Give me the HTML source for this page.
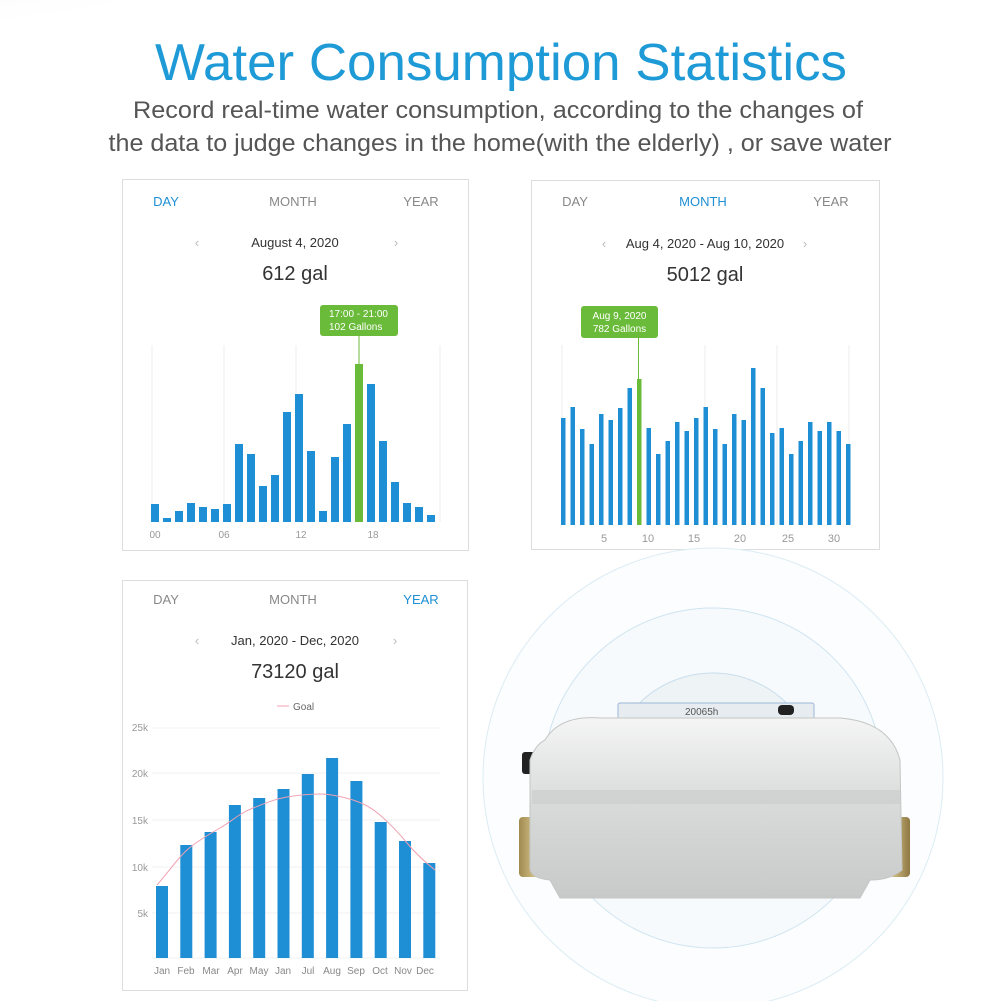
<!DOCTYPE html>
<html><head><meta charset="utf-8"><style>
html,body{margin:0;padding:0;background:#fff}
svg{display:block}
text{font-family:"Liberation Sans",sans-serif}
</style></head><body>
<svg width="1001" height="1001" viewBox="0 0 1001 1001" xmlns="http://www.w3.org/2000/svg">
<defs>
<radialGradient id="corner" cx="0" cy="0" r="1"><stop offset="0" stop-color="#ddd"/><stop offset="1" stop-color="#fff" stop-opacity="0"/></radialGradient>
<linearGradient id="body" x1="0" y1="0" x2="0" y2="1"><stop offset="0" stop-color="#f4f5f4"/><stop offset="0.5" stop-color="#d8dad9"/><stop offset="1" stop-color="#c8cac9"/></linearGradient>
<linearGradient id="brass" x1="0" y1="0" x2="1" y2="0"><stop offset="0" stop-color="#a08a50"/><stop offset="0.5" stop-color="#d6c48a"/><stop offset="1" stop-color="#8e7843"/></linearGradient>
</defs>
<ellipse cx="0" cy="0" rx="250" ry="40" fill="url(#corner)"/>
<text x="501" y="80" text-anchor="middle" font-size="52" fill="#1e9ad6" textLength="692" lengthAdjust="spacingAndGlyphs">Water Consumption Statistics</text>
<text x="498" y="118" text-anchor="middle" font-size="24" fill="#555" textLength="730" lengthAdjust="spacingAndGlyphs">Record real-time water consumption, according to the changes of</text>
<text x="500" y="151" text-anchor="middle" font-size="24" fill="#555" textLength="783" lengthAdjust="spacingAndGlyphs">the data to judge changes in the home(with the elderly) , or save water</text>

<!-- card 1 -->
<rect x="122.5" y="179.5" width="346" height="371" fill="#fff" stroke="#ddd"/>
<g font-size="13" fill="#888">
<text x="166" y="206" text-anchor="middle" fill="#1e8fd4">DAY</text>
<text x="293" y="206" text-anchor="middle">MONTH</text>
<text x="421" y="206" text-anchor="middle">YEAR</text>
<text x="197" y="247" text-anchor="middle" fill="#bbb">‹</text>
<text x="396" y="247" text-anchor="middle" fill="#bbb">›</text>
</g>
<text x="295" y="247" text-anchor="middle" font-size="13" fill="#333">August 4, 2020</text>
<text x="295" y="280" text-anchor="middle" font-size="20" fill="#333">612 gal</text>
<g stroke="#eee"><line x1="152" y1="345" x2="152" y2="522"/><line x1="224" y1="345" x2="224" y2="522"/><line x1="296" y1="345" x2="296" y2="522"/><line x1="440" y1="345" x2="440" y2="522"/></g>
<line x1="359" y1="336" x2="359" y2="364" stroke="#6bbb3a"/>
<rect x="320" y="305" width="78" height="31" rx="3" fill="#6bbb3a"/>
<text x="329" y="317" font-size="10" fill="#fff">17:00 - 21:00</text>
<text x="329" y="330" font-size="10" fill="#fff">102 Gallons</text>
<g fill="#1e8fd4">
<rect x="151" y="504" width="8" height="18"/><rect x="163" y="518" width="8" height="4"/><rect x="175" y="511" width="8" height="11"/><rect x="187" y="503" width="8" height="19"/><rect x="199" y="507" width="8" height="15"/><rect x="211" y="509" width="8" height="13"/><rect x="223" y="504" width="8" height="18"/><rect x="235" y="444" width="8" height="78"/><rect x="247" y="454" width="8" height="68"/><rect x="259" y="486" width="8" height="36"/><rect x="271" y="475" width="8" height="47"/><rect x="283" y="412" width="8" height="110"/><rect x="295" y="394" width="8" height="128"/><rect x="307" y="451" width="8" height="71"/><rect x="319" y="511" width="8" height="11"/><rect x="331" y="457" width="8" height="65"/><rect x="343" y="424" width="8" height="98"/><rect x="355" y="364" width="8" height="158" fill="#6bbb3a"/><rect x="367" y="384" width="8" height="138"/><rect x="379" y="441" width="8" height="81"/><rect x="391" y="482" width="8" height="40"/><rect x="403" y="503" width="8" height="19"/><rect x="415" y="507" width="8" height="15"/><rect x="427" y="515" width="8" height="7"/>
</g>
<g font-size="10" fill="#999" text-anchor="middle"><text x="155" y="538">00</text><text x="224" y="538">06</text><text x="301" y="538">12</text><text x="373" y="538">18</text></g>

<!-- card 2 -->
<rect x="531.5" y="180.5" width="348" height="369" fill="#fff" stroke="#ddd"/>
<g font-size="13" fill="#888">
<text x="575" y="206" text-anchor="middle">DAY</text>
<text x="703" y="206" text-anchor="middle" fill="#1e8fd4">MONTH</text>
<text x="831" y="206" text-anchor="middle">YEAR</text>
<text x="604" y="248" text-anchor="middle" fill="#bbb">‹</text>
<text x="805" y="248" text-anchor="middle" fill="#bbb">›</text>
</g>
<text x="705" y="248" text-anchor="middle" font-size="13" fill="#333">Aug 4, 2020 - Aug 10, 2020</text>
<text x="705" y="281" text-anchor="middle" font-size="20" fill="#333">5012 gal</text>
<g stroke="#eee"><line x1="562" y1="345" x2="562" y2="525"/><line x1="705" y1="345" x2="705" y2="525"/><line x1="777" y1="345" x2="777" y2="525"/><line x1="849" y1="345" x2="849" y2="525"/></g>
<line x1="638.5" y1="338" x2="638.5" y2="379" stroke="#6bbb3a"/>
<rect x="581" y="306" width="77" height="32" rx="3" fill="#6bbb3a"/>
<text x="619.5" y="319" text-anchor="middle" font-size="10" fill="#fff">Aug 9, 2020</text>
<text x="619.5" y="332" text-anchor="middle" font-size="10" fill="#fff">782 Gallons</text>
<g fill="#1e8fd4">
<rect x="561" y="418" width="4.5" height="107"/><rect x="570.5" y="407" width="4.5" height="118"/><rect x="580" y="429" width="4.5" height="96"/><rect x="589.5" y="444" width="4.5" height="81"/><rect x="599" y="414" width="4.5" height="111"/><rect x="608.5" y="420" width="4.5" height="105"/><rect x="618" y="408" width="4.5" height="117"/><rect x="627.5" y="388" width="4.5" height="137"/><rect x="637" y="379" width="4.5" height="146" fill="#6bbb3a"/><rect x="646.5" y="428" width="4.5" height="97"/><rect x="656" y="454" width="4.5" height="71"/><rect x="665.5" y="441" width="4.5" height="84"/><rect x="675" y="422" width="4.5" height="103"/><rect x="684.5" y="431" width="4.5" height="94"/><rect x="694" y="418" width="4.5" height="107"/><rect x="703.5" y="407" width="4.5" height="118"/><rect x="713" y="429" width="4.5" height="96"/><rect x="722.5" y="444" width="4.5" height="81"/><rect x="732" y="414" width="4.5" height="111"/><rect x="741.5" y="420" width="4.5" height="105"/><rect x="751" y="368" width="4.5" height="157"/><rect x="760.5" y="388" width="4.5" height="137"/><rect x="770" y="433" width="4.5" height="92"/><rect x="779.5" y="428" width="4.5" height="97"/><rect x="789" y="454" width="4.5" height="71"/><rect x="798.5" y="441" width="4.5" height="84"/><rect x="808" y="422" width="4.5" height="103"/><rect x="817.5" y="431" width="4.5" height="94"/><rect x="827" y="422" width="4.5" height="103"/><rect x="836.5" y="431" width="4.5" height="94"/><rect x="846" y="444" width="4.5" height="81"/>
</g>
<g font-size="11" fill="#999" text-anchor="middle"><text x="604" y="542">5</text><text x="648" y="542">10</text><text x="694" y="542">15</text><text x="740" y="542">20</text><text x="788" y="542">25</text><text x="834" y="542">30</text></g>

<!-- card 3 -->
<rect x="122.5" y="580.5" width="345" height="410" fill="#fff" stroke="#ddd"/>
<g font-size="13" fill="#888">
<text x="166" y="604" text-anchor="middle">DAY</text>
<text x="293" y="604" text-anchor="middle">MONTH</text>
<text x="421" y="604" text-anchor="middle" fill="#1e8fd4">YEAR</text>
<text x="197" y="645" text-anchor="middle" fill="#bbb">‹</text>
<text x="395" y="645" text-anchor="middle" fill="#bbb">›</text>
</g>
<text x="295" y="645" text-anchor="middle" font-size="13" fill="#333">Jan, 2020 - Dec, 2020</text>
<text x="295" y="678" text-anchor="middle" font-size="20" fill="#333">73120 gal</text>
<line x1="277" y1="706" x2="289" y2="706" stroke="#f0a0b0"/>
<text x="293" y="710" font-size="10" fill="#666">Goal</text>
<g stroke="#f0f0f0"><line x1="152" y1="728" x2="440" y2="728"/><line x1="152" y1="773" x2="440" y2="773"/><line x1="152" y1="820" x2="440" y2="820"/><line x1="152" y1="867" x2="440" y2="867"/><line x1="152" y1="913" x2="440" y2="913"/><line x1="152" y1="958" x2="440" y2="958"/></g>
<g font-size="10" fill="#999" text-anchor="end"><text x="148" y="731">25k</text><text x="148" y="777">20k</text><text x="148" y="824">15k</text><text x="148" y="871">10k</text><text x="148" y="917">5k</text></g>
<g fill="#1e8fd4">
<rect x="156" y="886" width="12" height="72"/><rect x="180.3" y="845" width="12" height="113"/><rect x="204.6" y="832" width="12" height="126"/><rect x="228.9" y="805" width="12" height="153"/><rect x="253.2" y="798" width="12" height="160"/><rect x="277.5" y="789" width="12" height="169"/><rect x="301.8" y="774" width="12" height="184"/><rect x="326.1" y="758" width="12" height="200"/><rect x="350.4" y="781" width="12" height="177"/><rect x="374.7" y="822" width="12" height="136"/><rect x="399" y="841" width="12" height="117"/><rect x="423.3" y="863" width="12" height="95"/>
</g>
<path d="M157,885 C170,870 178,858 187,850 S208,835 220,828 S240,813 253,808 S275,799 287,797 S308,794 320,794 S343,797 353,800 S372,808 380,815 S398,832 407,843 S425,862 435,870" fill="none" stroke="#f0a0b0" stroke-width="1"/>
<g font-size="10" fill="#888" text-anchor="middle"><text x="162" y="974">Jan</text><text x="186" y="974">Feb</text><text x="211" y="974">Mar</text><text x="235" y="974">Apr</text><text x="259" y="974">May</text><text x="283" y="974">Jan</text><text x="308" y="974">Jul</text><text x="332" y="974">Aug</text><text x="356" y="974">Sep</text><text x="380" y="974">Oct</text><text x="403" y="974">Nov</text><text x="425" y="974">Dec</text></g>

<!-- meter -->
<circle cx="713" cy="778" r="230" fill="#fbfdfe" stroke="#dcecf4"/>
<circle cx="713" cy="778" r="170" fill="#f7fafc" stroke="#cfe4f0"/>
<circle cx="713" cy="778" r="105" fill="#eef3f6" stroke="#c8deec"/>
<rect x="618" y="703" width="196" height="16" rx="2" fill="#e6ecf0" stroke="#9bb8d8"/>
<rect x="778" y="705" width="16" height="10" rx="4" fill="#222"/>
<text x="685" y="715" font-size="10" fill="#555">20065h</text>
<rect x="522" y="752" width="14" height="22" rx="3" fill="#222"/>
<rect x="519" y="817" width="34" height="60" rx="4" fill="url(#brass)"/>
<rect x="872" y="817" width="38" height="60" rx="4" fill="url(#brass)"/>
<path d="M545,740 Q560,715 600,718 L840,718 Q890,722 900,760 L902,870 Q890,880 870,880 L860,898 L560,898 L550,880 Q530,878 530,868 L530,760 Q535,745 545,740 Z" fill="url(#body)" stroke="#c4c6c5"/>
<rect x="532" y="790" width="368" height="14" fill="#c9cccb" opacity="0.6"/>
</svg>
</body></html>
